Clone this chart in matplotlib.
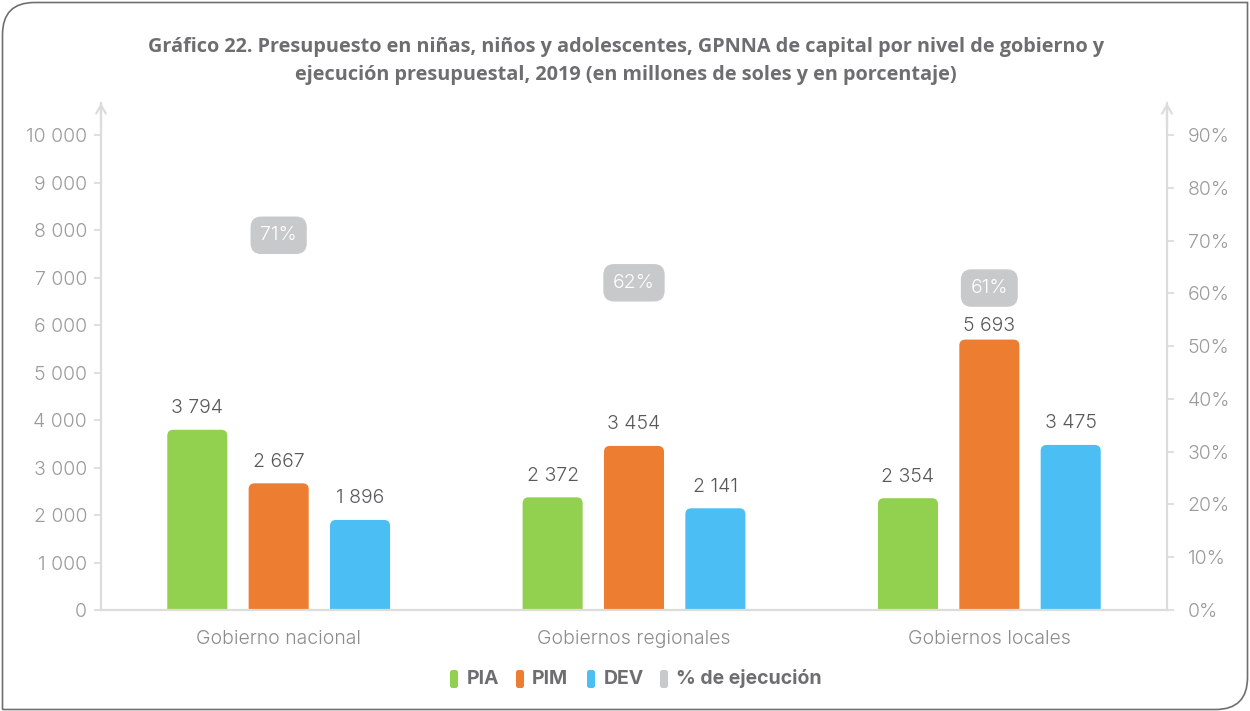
import matplotlib
matplotlib.use("Agg")
import matplotlib.pyplot as plt
from matplotlib.patches import FancyBboxPatch
from matplotlib.path import Path
from matplotlib.patches import PathPatch
import numpy as np

categories = ["Gobierno nacional", "Gobiernos regionales", "Gobiernos locales"]
pia = [3794, 2372, 2354]
pim = [2667, 3454, 5693]
dev = [1896, 2141, 3475]
ejecucion = [71, 62, 61]
series_names = ["PIA", "PIM", "DEV", "% de ejecución"]
colors = ["#92d050", "#ed7d31", "#4bbef3", "#c8c9cb"]
left_ticks = [0, 1000, 2000, 3000, 4000, 5000, 6000, 7000, 8000, 9000, 10000]
right_ticks = [0, 10, 20, 30, 40, 50, 60, 70, 80, 90]

title = ("Gráfico 22. Presupuesto en niñas, niños y adolescentes, GPNNA de capital por nivel de gobierno y\n"
         "ejecución presupuestal, 2019 (en millones de soles y en porcentaje)")

W, H = 1250, 711
fig = plt.figure(figsize=(W / 100, H / 100), dpi=100)
FONT = "Inter"
plt.rcParams["font.family"] = [FONT, "DejaVu Sans"]
plt.rcParams["font.weight"] = 300

ax_left, ax_right, ax_bot, ax_top = 101, 1167, 610, 103
ax = fig.add_axes([ax_left / W, 1 - ax_bot / H, (ax_right - ax_left) / W, (ax_bot - ax_top) / H])
ymax = 10000 * (ax_bot - ax_top) / (ax_bot - 135)
ax.set_ylim(0, ymax)
ax.set_xlim(-0.5, 2.5)

x = np.arange(len(categories))
bw = 0.169
off = 0.229
spine_c = "#dcdcdc"
px_x = 3.0 / (ax_right - ax_left)
px_y = ymax / (ax_bot - ax_top)
r_px = 6
for vals, dx, col in zip([pia, pim, dev], [-off, 0, off], colors[:3]):
    bars = ax.bar(x + dx, vals, width=bw, color=col)
    for i, (b, v) in enumerate(zip(bars, vals)):
        bx, by, bwid, bh = b.get_x(), b.get_y(), b.get_width(), b.get_height()
        b.set_visible(False)
        rx = r_px * px_x
        ry = r_px * px_y
        p = FancyBboxPatch((bx, by - 2 * ry), bwid, bh + 2 * ry,
                           boxstyle=f"round,pad=0,rounding_size={rx}",
                           mutation_aspect=ry / rx, fc=col, ec="none", clip_on=True)
        ax.add_patch(p)
        # keep the label clear of the percentage box sitting above the middle bar
        box_y = ejecucion[i] * 10000 / 90
        near_box = dx == 0 and (box_y - v) < 1500
        ax.annotate(f"{v:,}".replace(",", " "), xy=(bx + bwid / 2, v), xytext=(0, 3 if near_box else 9),
                    textcoords="offset points", ha="center", va="bottom",
                    fontsize=14, color="#58595b")

ax.spines["top"].set_visible(False)
for s in ["left", "right", "bottom"]:
    ax.spines[s].set_color(spine_c)
    ax.spines[s].set_linewidth(1.6)
ax.spines["right"].set_visible(False)

ax.set_yticks(left_ticks)
ax.set_yticklabels([f"{t:,}".replace(",", " ") for t in left_ticks])
ax.tick_params(axis="y", length=5, width=1.3, color=spine_c, pad=5, labelsize=14, labelcolor="#9b9b9b")
ax.set_xticks(x)
ax.set_xticklabels(categories)
ax.tick_params(axis="x", length=0, pad=14.5, labelsize=14, labelcolor="#8c8c8c")

ax2 = ax.twinx()
ax2.set_ylim(0, 90 * ymax / 10000)
for s in ["top", "left", "bottom"]:
    ax2.spines[s].set_visible(False)
ax2.spines["right"].set_color(spine_c)
ax2.spines["right"].set_linewidth(1.6)
ax2.set_yticks(right_ticks)
ax2.set_yticklabels([f"{t}%" for t in right_ticks])
ax2.tick_params(axis="y", length=5, width=1.3, color=spine_c, pad=10, labelsize=14, labelcolor="#9b9b9b")

for xi, pct in zip(x, ejecucion):
    ax2.text(xi, pct, f"{pct}%", ha="center", va="center", fontsize=14, color="white",
             bbox=dict(boxstyle="round,pad=0.5,rounding_size=0.55", fc=colors[3], ec="none"))

# arrowheads at the top of both vertical axes
for xa in [0, 1]:
    ax.annotate("", xy=(xa, 1.0), xytext=(xa, 0.95), xycoords="axes fraction",
                arrowprops=dict(arrowstyle="->,head_length=0.6,head_width=0.35", color=spine_c, lw=1.6,
                                shrinkA=0, shrinkB=0))

fig.text(626 / W, 1 - 61 / H, title, ha="center", va="center", fontsize=14.3, fontweight="bold",
         color="#6d6e71", family=["Open Sans", "DejaVu Sans"], linespacing=1.5)

# legend
leg_items = [(450, 467), (516, 532), (587, 604), (660, 676)]
ly = 679
for (mx, tx), name, col in zip(leg_items, series_names, colors):
    patch = FancyBboxPatch(((mx) / W, (H - ly - 9) / H), 8 / W, 18 / H,
                           boxstyle="round,pad=0,rounding_size=0.002", transform=fig.transFigure,
                           fc=col, ec="none", mutation_aspect=W / H)
    fig.add_artist(patch)
    fig.text(tx / W, 1 - ly / H, name, ha="left", va="center", fontsize=14, fontweight="bold",
             color="#6d6e71")

# frame with rounded top-left and bottom-right corners
r = 32
L, R, T, B = 2.5, 1247.5, 2.5, 709.5
verts = [(L, B), (L, T + r), (L, T), (L + r, T), (R, T), (R, B - r), (R, B), (R - r, B), (L, B)]
codes = [Path.MOVETO, Path.LINETO, Path.CURVE3, Path.CURVE3, Path.LINETO, Path.LINETO,
         Path.CURVE3, Path.CURVE3, Path.LINETO]
verts_fig = [(vx / W, 1 - vy / H) for vx, vy in verts]
fig.add_artist(PathPatch(Path(verts_fig, codes), transform=fig.transFigure, fc="none",
                         ec="#6f6f6f", lw=1.2))

fig.savefig("out.png", dpi=100)
